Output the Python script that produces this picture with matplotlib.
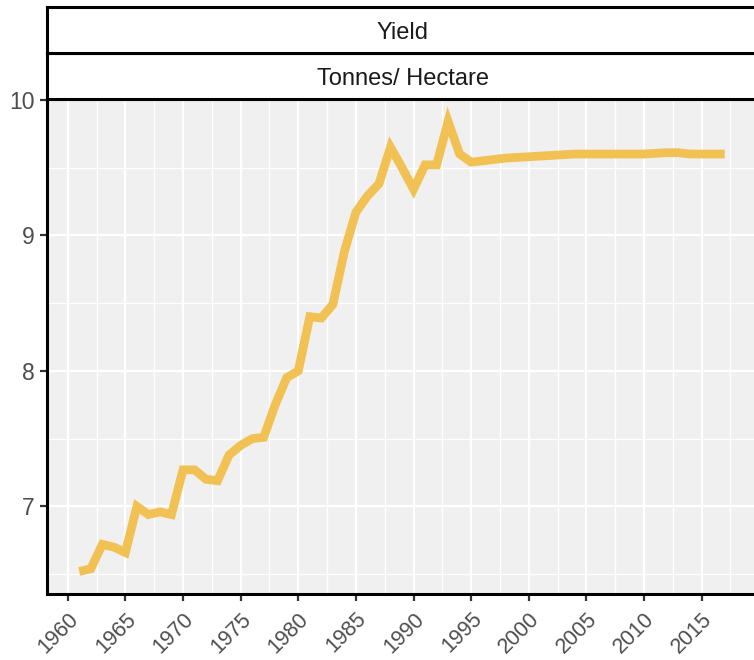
import matplotlib
matplotlib.use("Agg")
import matplotlib.pyplot as plt
from matplotlib.ticker import MultipleLocator

plt.rcParams['font.family'] = ['Liberation Sans', 'DejaVu Sans']

years = list(range(1961, 2018))
yield_t_ha = [
    6.52, 6.54, 6.72, 6.70, 6.66, 7.00, 6.94, 6.96, 6.94, 7.27,
    7.27, 7.20, 7.19, 7.38, 7.45, 7.50, 7.51, 7.75, 7.95, 8.00,
    8.40, 8.39, 8.49, 8.88, 9.17, 9.29, 9.38, 9.65, 9.50, 9.34,
    9.52, 9.52, 9.84, 9.60, 9.54, 9.55, 9.56, 9.57, 9.575, 9.58,
    9.585, 9.59, 9.595, 9.60, 9.60, 9.60, 9.60, 9.60, 9.60, 9.60,
    9.605, 9.61, 9.61, 9.60, 9.60, 9.60, 9.60,
]
strip_outer = "Yield"
strip_inner = "Tonnes/ Hectare"
x_ticks = list(range(1960, 2020, 5))
y_ticks = [7, 8, 9, 10]

W, H = 754, 660
fig = plt.figure(figsize=(W / 100, H / 100), dpi=100)

left_px, right_px = 47, 757
top_px, bot_px = 99, 594
ax = fig.add_axes([left_px / W, (H - bot_px) / H, (right_px - left_px) / W, (bot_px - top_px) / H])
ax.set_facecolor('#F0F0F0')

ax.plot(years, yield_t_ha, color='#F1C253', lw=6.3, solid_capstyle='butt',
        solid_joinstyle='miter', zorder=3)

xr = max(years) - min(years)
ax.set_xlim(min(years) - 0.05 * xr, max(years) + 0.05 * xr)
yr = max(yield_t_ha) - min(yield_t_ha)
ax.set_ylim(min(yield_t_ha) - 0.05 * yr, max(yield_t_ha) + 0.05 * yr)

ax.set_xticks(x_ticks)
ax.set_xticklabels([str(t) for t in x_ticks], rotation=45, ha='right', va='top',
                   rotation_mode='anchor')
ax.set_yticks(y_ticks)
ax.xaxis.set_minor_locator(MultipleLocator(2.5))
ax.yaxis.set_minor_locator(MultipleLocator(0.5))
ax.grid(which='major', color='white', lw=1.6, zorder=0)
ax.grid(which='minor', color='white', lw=1.0, zorder=0)
ax.set_axisbelow(True)
ax.tick_params(which='major', length=5, width=1.6, color='#333333',
               labelsize=16.5, labelcolor='#4D4D4D', pad=4)
ax.tick_params(axis='x', which='major', pad=5.5, labelsize=15.5)
ax.tick_params(which='minor', length=0)
for s in ax.spines.values():
    s.set_color('black')
    s.set_linewidth(2.2)

# strips
strip_h = 46
for i, label in enumerate([strip_inner, strip_outer]):
    top = top_px - strip_h * (i + 1)
    sax = fig.add_axes([left_px / W, (H - (top + strip_h)) / H, (right_px - left_px) / W, strip_h / H])
    sax.set_facecolor('white')
    sax.set_xticks([])
    sax.set_yticks([])
    for s in sax.spines.values():
        s.set_color('black')
        s.set_linewidth(2.2)
    sax.text(0.5 * (W - left_px) / (right_px - left_px) + 0.003, 0.43, label,
             transform=sax.transAxes, ha='center', va='center',
             fontsize=17, color='#1A1A1A')

fig.savefig('out.png', dpi=100)
